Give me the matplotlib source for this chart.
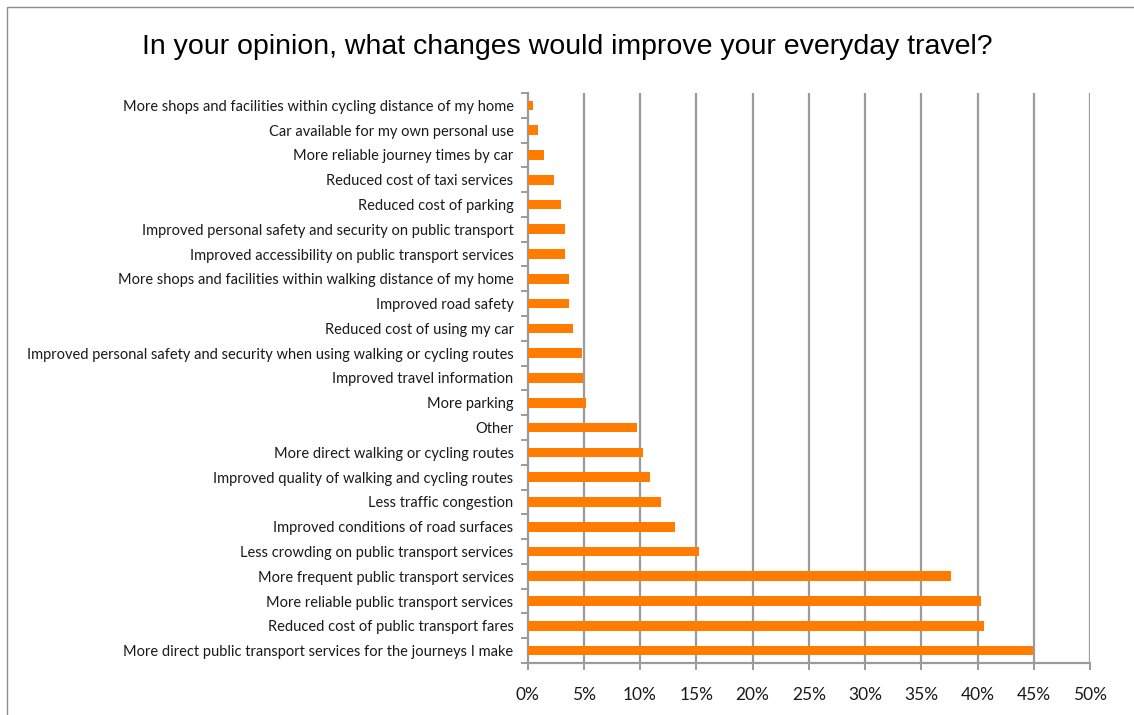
import matplotlib
matplotlib.use("Agg")
import matplotlib.pyplot as plt
from matplotlib.patches import Rectangle
from matplotlib.ticker import FixedLocator, PercentFormatter

title = "In your opinion, what changes would improve your everyday travel?"

# Answer options, listed top to bottom as they appear on the chart
categories = [
    "More shops and facilities within cycling distance of my home",
    "Car available for my own personal use",
    "More reliable journey times by car",
    "Reduced cost of taxi services",
    "Reduced cost of parking",
    "Improved personal safety and security on public transport",
    "Improved accessibility on public transport services",
    "More shops and facilities within walking distance of my home",
    "Improved road safety",
    "Reduced cost of using my car",
    "Improved personal safety and security when using walking or cycling routes",
    "Improved travel information",
    "More parking",
    "Other",
    "More direct walking or cycling routes",
    "Improved quality of walking and cycling routes",
    "Less traffic congestion",
    "Improved conditions of road surfaces",
    "Less crowding on public transport services",
    "More frequent public transport services",
    "More reliable public transport services",
    "Reduced cost of public transport fares",
    "More direct public transport services for the journeys I make",
]

# Share of respondents choosing each option (%)
shares = [
    0.5, 0.95, 1.5, 2.35, 2.95, 3.35, 3.35, 3.7, 3.7, 4.05, 4.8, 4.9, 5.2,
    9.7, 10.3, 10.85, 11.85, 13.1, 15.2, 37.6, 40.35, 40.6, 44.9,
]

x_ticks = [0, 5, 10, 15, 20, 25, 30, 35, 40, 45, 50]

BAR_COLOR = "#FF7C00"
GRID_COLOR = "#9B9B9B"
LABEL_FONT = "Lato"

W, H, DPI = 1134, 715, 100
fig = plt.figure(figsize=(W / DPI, H / DPI), dpi=DPI)
fig.patch.set_facecolor("white")

# Outer chart frame (runs past the right and bottom edges)
fig.add_artist(Rectangle((7 / W, -0.05), 1.1, 1.05 - 7.5 / H,
                         transform=fig.transFigure, fill=False,
                         edgecolor="#8C8C8C", linewidth=1.0))

ax = fig.add_axes([527.5 / W, 1 - 663 / H, (1090 - 527.5) / W, (663 - 93) / H])

ypos = list(range(len(categories)))
ax.barh(ypos, shares, height=0.39, color=BAR_COLOR, zorder=3)

ax.set_ylim(len(categories) - 0.5, -0.5)
ax.set_xlim(0, 50)

# Vertical gridlines
for v in x_ticks[1:]:
    ax.axvline(v, color=GRID_COLOR, linewidth=1.6, zorder=1)

for side in ("top", "right"):
    ax.spines[side].set_visible(False)
for side in ("left", "bottom"):
    ax.spines[side].set_color(GRID_COLOR)
    ax.spines[side].set_linewidth(1.6)

ax.set_yticks(ypos)
ax.set_yticklabels(categories, fontsize=10.5, family=LABEL_FONT, color="#1a1a1a")
ax.tick_params(axis="y", which="major", length=0, pad=10)
ax.yaxis.set_minor_locator(FixedLocator([k - 0.5 for k in range(len(categories) + 1)]))
ax.tick_params(axis="y", which="minor", length=5, width=1.4, color=GRID_COLOR,
               direction="out")

ax.set_xticks(x_ticks)
ax.xaxis.set_major_formatter(PercentFormatter(decimals=0))
ax.tick_params(axis="x", length=5, width=1.4, color=GRID_COLOR, pad=12,
               labelsize=12.5, labelcolor="#1a1a1a")
for lbl in ax.get_xticklabels():
    lbl.set_family(LABEL_FONT)

fig.text(0.5, 1 - 54 / H, title, ha="center", va="baseline",
         fontsize=20.5, family="Liberation Sans", color="black")

fig.savefig("out.png", dpi=DPI, facecolor="white")
